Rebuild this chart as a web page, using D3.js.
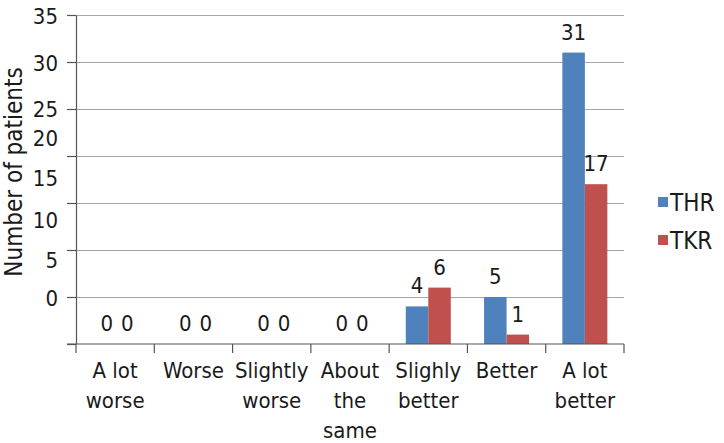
<!DOCTYPE html>
<html>
<head>
<meta charset="utf-8">
<script src="https://cdn.jsdelivr.net/npm/d3@7"></script>
<style>
  html, body { margin: 0; padding: 0; background: #fff; }
  svg { display: block; }
  text { font-family: "DejaVu Sans Condensed", "DejaVu Sans", sans-serif; font-stretch: condensed; fill: #1a1a1a; }
</style>
</head>
<body>
<svg id="chart" width="724" height="443"></svg>
<script>
const categories = ["A lot worse", "Worse", "Slightly worse", "About the same", "Slighly better", "Better", "A lot better"];
const categoryLines = [["A lot", "worse"], ["Worse"], ["Slightly", "worse"], ["About", "the", "same"], ["Slighly", "better"], ["Better"], ["A lot", "better"]];
const seriesNames = ["THR", "TKR"];
const thrValues = [0, 0, 0, 0, 4, 5, 31];
const tkrValues = [0, 0, 0, 0, 6, 1, 17];
const seriesColors = ["#4F81BD", "#C0504D"];
const yTicks = [0, 5, 10, 15, 20, 25, 30, 35];
const yTickLabels = ["0", "5", "10", "15", "20", "25", "30", "35"];
// the tick labels in the reference sit off their gridlines; their positions in data units
const yTickLabelAt = [4.9, 8.9, 13.2, 17.7, 21.9, 25, 29.9, 34.9];
const yTitle = "Number of patients";

const svg = d3.select("#chart");
const plot = { left: 76, right: 624, top: 15, bottom: 344 };

const x = d3.scaleBand().domain(categories).range([plot.left, plot.right]).padding(0);
const xs = d3.scaleBand().domain(seriesNames).range([0, x.bandwidth()]).paddingInner(0).paddingOuter(0.74);
const y = d3.scaleLinear().domain([0, 35]).range([plot.bottom, plot.top]);

// gridlines
const grid = svg.append("g").attr("transform", `translate(${plot.left},0)`)
  .call(d3.axisLeft(y).tickValues(yTicks.filter(v => v > 0)).tickSize(-(plot.right - plot.left)).tickFormat(""));
grid.select(".domain").remove();
grid.selectAll("line").attr("stroke", "#a6a6a6").attr("stroke-width", 1.2);

// y axis ticks (outward)
const yAxis = svg.append("g").attr("transform", `translate(${plot.left},0)`)
  .call(d3.axisLeft(y).tickValues(yTicks).tickSize(9).tickSizeOuter(0).tickFormat(""));
yAxis.select(".domain").attr("stroke", "#555").attr("stroke-width", 1.2);
yAxis.selectAll("line").attr("stroke", "#555").attr("stroke-width", 1.2);

// y tick labels
svg.append("g").selectAll("text").data(yTickLabels).join("text")
  .attr("x", 58)
  .attr("y", (d, i) => y(yTickLabelAt[i]))
  .attr("dy", "0.36em")
  .attr("text-anchor", "end")
  .attr("font-size", 22)
  .text(d => d);

// bars
const series = [thrValues, tkrValues];
const barG = svg.append("g");
series.forEach((vals, si) => {
  barG.append("g").selectAll("rect").data(vals).join("rect")
    .attr("x", (d, i) => x(categories[i]) + xs(seriesNames[si]))
    .attr("width", xs.bandwidth())
    .attr("y", d => y(d))
    .attr("height", d => y(0) - y(d))
    .attr("fill", seriesColors[si]);
  barG.append("g").selectAll("text").data(vals).join("text")
    .attr("x", (d, i) => x(categories[i]) + xs(seriesNames[si]) + xs.bandwidth() / 2 + (d === 0 ? (si === 0 ? 3 : 1) : 0))
    .attr("y", d => y(d) - 13)
    .attr("text-anchor", "middle")
    .attr("font-size", 22)
    .text(d => d);
});

// x axis baseline and boundary ticks
const xAxisG = svg.append("g");
xAxisG.append("line")
  .attr("x1", plot.left - 9).attr("x2", plot.right)
  .attr("y1", y(0)).attr("y2", y(0))
  .attr("stroke", "#555").attr("stroke-width", 1.2);
const bounds = categories.map(c => x(c)).concat([x.range()[1]]);
xAxisG.selectAll("line.tick").data(bounds).join("line")
  .attr("class", "tick")
  .attr("x1", d => d).attr("x2", d => d)
  .attr("y1", y(0)).attr("y2", y(0) + 9)
  .attr("stroke", "#555").attr("stroke-width", 1.2);

// category labels
const catG = svg.append("g");
categoryLines.forEach((lines, i) => {
  const t = catG.append("text")
    .attr("x", x(categories[i]) + x.bandwidth() / 2)
    .attr("y", 378)
    .attr("text-anchor", "middle")
    .attr("font-size", 22);
  lines.forEach((ln, j) => {
    t.append("tspan").attr("x", x(categories[i]) + x.bandwidth() / 2).attr("dy", j === 0 ? 0 : 30).text(ln);
  });
});

// y title
svg.append("text")
  .attr("transform", `translate(22,172) rotate(-90)`)
  .attr("text-anchor", "middle")
  .attr("font-size", 24)
  .text(yTitle);

// legend
const legend = svg.append("g");
seriesNames.forEach((name, i) => {
  const cy = 202 + i * 38;
  legend.append("rect").attr("x", 658).attr("y", cy - 5).attr("width", 10).attr("height", 10).attr("fill", seriesColors[i]);
  legend.append("text").attr("x", 670).attr("y", cy).attr("dy", "0.36em").attr("font-size", 24).text(name);
});
</script>
</body>
</html>
